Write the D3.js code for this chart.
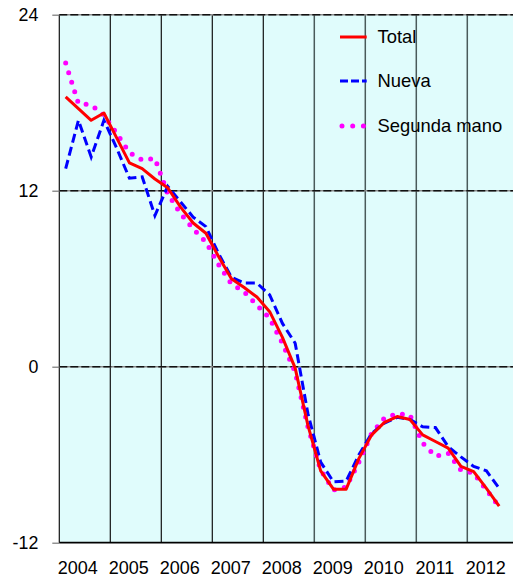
<!DOCTYPE html>
<html>
<head>
<meta charset="utf-8">
<script src="https://cdn.jsdelivr.net/npm/d3@7"></script>
<style>
  html, body { margin: 0; padding: 0; background: #fff; }
  svg { display: block; }
  text { font-family: Arial, "Liberation Sans", sans-serif; fill: #000; }
</style>
</head>
<body>
<svg id="chart" width="513" height="577"></svg>
<script>
// ---- data (quarterly, 2004Q1 .. 2012Q3) ----
const years = ["2004","2005","2006","2007","2008","2009","2010","2011","2012"];
const yTicks = [-12, 0, 12, 24];
const seriesNames = ["Total", "Nueva", "Segunda mano"];

const total = [18.4, 17.6, 16.8, 17.3, 15.6, 13.9, 13.5, 12.8,
               12.2, 10.9, 9.8, 9.1, 7.5, 6.0, 5.4, 4.75,
               3.75, 2.0, -0.1, -4.0, -7.1, -8.35, -8.35, -6.25,
               -4.65, -3.8, -3.4, -3.6, -4.65, -5.1, -5.55, -6.8,
               -7.15, -8.3, -9.5];
const nueva = [13.5, 16.8, 14.3, 16.8, 14.9, 12.85, 12.95, 10.3,
               12.3, 11.25, 10.2, 9.55, 7.7, 6.1, 5.7, 5.7,
               4.9, 2.95, 1.6, -3.2, -6.5, -7.85, -7.8, -6.0,
               -4.55, -3.85, -3.45, -3.6, -4.1, -4.15, -5.45, -6.15,
               -6.8, -7.1, -8.3];
const segunda = [20.7, 17.95, 17.85, 17.15, 15.9, 14.6, 14.1, 14.2,
                 11.8, 10.45, 9.4, 8.5, 6.95, 5.65, 5.1, 4.2,
                 3.3, 1.6, -0.35, -4.1, -7.05, -8.4, -8.2, -6.5,
                 -4.55, -3.5, -3.2, -3.3, -5.2, -6.1, -5.9, -7.05,
                 -7.25, -8.4, -9.55];

// ---- layout ----
const svg = d3.select("#chart");
const pL = 59.3, pR = 518.3, pT = 14.7, pB = 542.7;

const x = d3.scaleLinear().domain([0, years.length * 4]).range([pL, pR]);
const y = d3.scaleLinear().domain([-12, 24]).range([pB, pT]);

// background
svg.append("rect")
  .attr("x", pL).attr("y", pT)
  .attr("width", pR - pL).attr("height", pB - pT)
  .attr("fill", "#E0FCFC");

// vertical year separators
svg.append("g").selectAll("line")
  .data(d3.range(0, years.length + 1))
  .join("line")
  .attr("x1", d => x(d * 4)).attr("x2", d => x(d * 4))
  .attr("y1", pT).attr("y2", pB)
  .attr("stroke", d => d >= 5 ? "#4a5a5a" : "#111")
  .attr("stroke-width", d => d >= 5 ? 1.5 : 1.2);

// horizontal gridlines (dashed) at 0, 12, 24
const gridVals = yTicks.filter(v => v > -12);
const grid = svg.append("g");
grid.selectAll("line.base").data(gridVals).join("line")
  .attr("class", "base")
  .attr("x1", pL).attr("x2", pR)
  .attr("y1", d => y(d)).attr("y2", d => y(d))
  .attr("stroke", "#8a8a8a").attr("stroke-width", 1.6);
grid.selectAll("line.dash").data(gridVals).join("line")
  .attr("class", "dash")
  .attr("x1", pL).attr("x2", pR)
  .attr("y1", d => y(d)).attr("y2", d => y(d))
  .attr("stroke", "#111").attr("stroke-width", 1.6)
  .attr("stroke-dasharray", "8,3");

// y axis ticks + labels
const yAxis = d3.axisLeft(y).tickValues(yTicks).tickFormat(d => String(d))
  .tickSize(7).tickPadding(14);
const ya = svg.append("g").attr("transform", `translate(${pL},0)`).call(yAxis);
ya.select(".domain").remove();
ya.selectAll(".tick line").attr("stroke", "#777").attr("stroke-width", 1.2);
ya.selectAll(".tick text")
  .style("font-family", "Arial, 'Liberation Sans', sans-serif")
  .style("font-size", "17.8px").attr("fill", "#000");

// x axis line
svg.append("line")
  .attr("x1", pL).attr("x2", pR)
  .attr("y1", pB).attr("y2", pB)
  .attr("stroke", "#000").attr("stroke-width", 1.8);

// year labels
svg.append("g").selectAll("text")
  .data(years)
  .join("text")
  .attr("x", (d, i) => x(i * 4 + 2) - 7)
  .attr("y", 574)
  .attr("text-anchor", "middle")
  .style("font-size", "18px")
  .text(d => d);

// lines
const line = d3.line()
  .x((d, i) => x(i + 0.5))
  .y(d => y(d));

const lg = svg.append("g");
lg.append("path").datum(segunda)
  .attr("d", line).attr("fill", "none")
  .attr("stroke", "#FF00FF").attr("stroke-width", 5)
  .attr("stroke-linecap", "round")
  .attr("stroke-dasharray", "0,10");
lg.append("path").datum(nueva)
  .attr("d", line).attr("fill", "none")
  .attr("stroke", "#0000FF").attr("stroke-width", 3)
  .attr("stroke-dasharray", "9,4.5");
lg.append("path").datum(total)
  .attr("d", line).attr("fill", "none")
  .attr("stroke", "#FF0000").attr("stroke-width", 3)
  .attr("stroke-linejoin", "round");

// legend
const legY = [37, 81, 126];
const leg = svg.append("g");
const styles = [
  {stroke: "#FF0000", width: 3, dash: null, cap: "butt"},
  {stroke: "#0000FF", width: 3, dash: "8,3", cap: "butt"},
  {stroke: "#FF00FF", width: 5, dash: "0,10.7", cap: "round"}
];
seriesNames.forEach((name, i) => {
  const s = styles[i];
  const xs = i === 2 ? [342, 363.5] : [340, 366.7];
  const l = leg.append("line")
    .attr("x1", xs[0]).attr("x2", xs[1])
    .attr("y1", legY[i]).attr("y2", legY[i])
    .attr("stroke", s.stroke).attr("stroke-width", s.width)
    .attr("stroke-linecap", s.cap);
  if (s.dash) l.attr("stroke-dasharray", s.dash);
  leg.append("text")
    .attr("x", 377.5).attr("y", legY[i])
    .attr("dy", "0.35em")
    .style("font-size", "18.4px")
    .text(name);
});
</script>
</body>
</html>
